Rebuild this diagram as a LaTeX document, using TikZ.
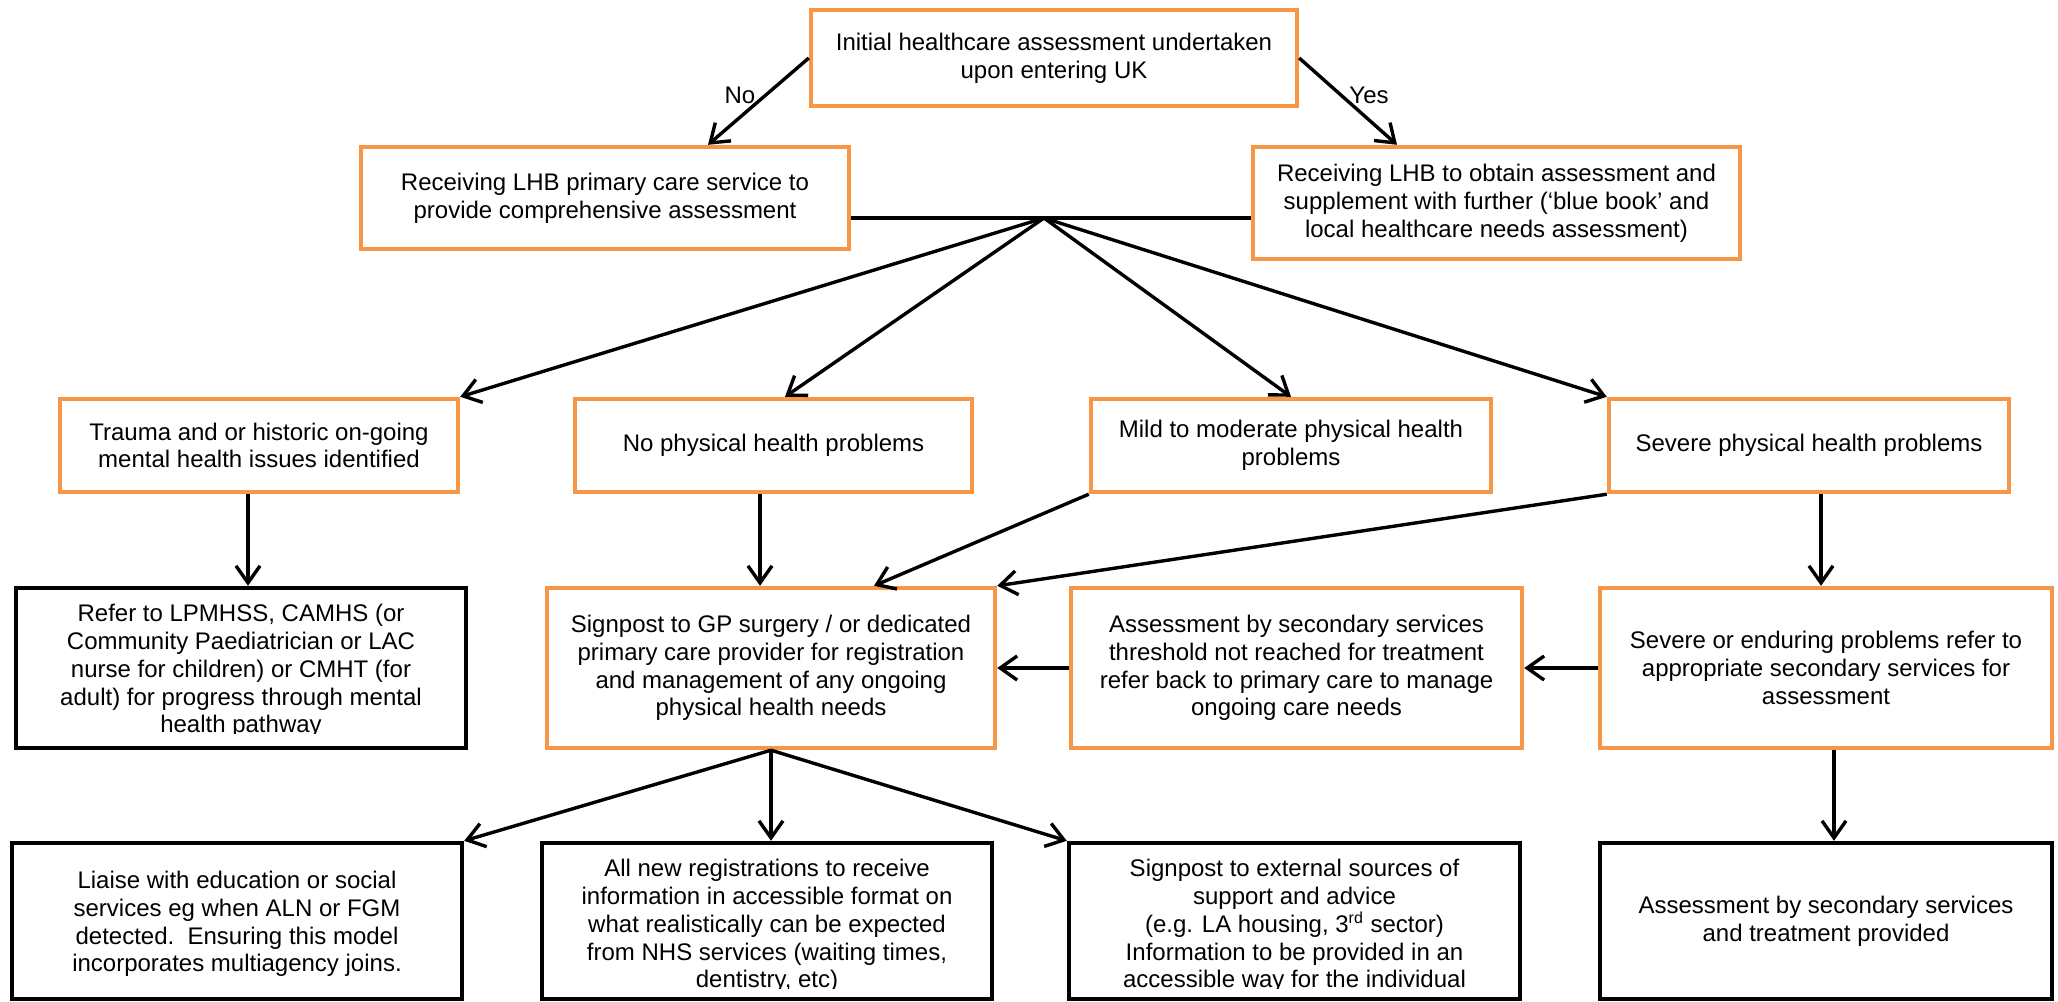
\documentclass[tikz,border=0pt]{standalone}
\usepackage{fontspec}
\setmainfont{Liberation Sans}
\usetikzlibrary{arrows.meta}
\definecolor{boxorange}{HTML}{F79646}
\begin{document}
\begin{tikzpicture}[x=0.5pt, y=-0.5pt,
  base/.style={line width=2.2pt, align=center, inner sep=2pt, fill=white,
               font=\fontsize{12}{13.9}\selectfont},
  obox/.style={base, draw=boxorange},
  kbox/.style={base, draw=black},
  arr/.style={line width=1.7pt, -{Straight Barb[length=8.5pt,width=12pt]}},
  plain/.style={line width=1.7pt},
  lbl/.style={font=\fontsize{12}{13.9}\selectfont, inner sep=0pt, align=center}
]
\useasboundingbox (0,0) rectangle (2058,1002);

% top level
\node[obox, minimum width=243pt, minimum height=48pt] (init) at (1054,58)
  {Initial healthcare assessment undertaken\\upon entering UK};
\node[obox, minimum width=244pt, minimum height=51pt] (recvA) at (605,198)
  {Receiving LHB primary care service to\\provide comprehensive assessment};
\node[obox, minimum width=243.5pt, minimum height=56pt] (recvB) at (1496.5,203)
  {Receiving LHB to obtain assessment and\\supplement with further (‘blue book’ and\\local healthcare needs assessment)};

% second row
\node[obox, minimum width=199pt, minimum height=46.5pt] (trauma) at (259,445.5)
  {Trauma and or historic on-going\\mental health issues identified};
\node[obox, minimum width=198.5pt, minimum height=46.5pt] (nophys) at (773.5,445.5)
  {No physical health problems};
\node[obox, minimum width=200pt, minimum height=46.5pt] (mild) at (1291,445.5)
  {Mild to moderate physical health\\problems};
\node[obox, minimum width=200pt, minimum height=46.5pt] (severe) at (1809,445.5)
  {Severe physical health problems};

% third row
\node[kbox, minimum width=225pt, minimum height=80pt] (refer) at (241,668) {};
\begin{scope}
  \clip (16,588) rectangle (466,733);
  \node[lbl] (refertext) at (241,671)
    {Refer to LPMHSS, CAMHS (or\\Community Paediatrician or LAC\\nurse for children) or CMHT (for\\adult) for progress through mental\\health pathway};
\end{scope}
\node[obox, minimum width=224pt, minimum height=80pt] (signpost) at (771,668)
  {Signpost to GP surgery / or dedicated\\primary care provider for registration\\and management of any ongoing\\physical health needs};
\node[obox, minimum width=225.5pt, minimum height=80pt] (assess) at (1296.5,668)
  {Assessment by secondary services\\threshold not reached for treatment\\refer back to primary care to manage\\ongoing care needs};
\node[obox, minimum width=226pt, minimum height=80pt] (sevend) at (1826,668)
  {Severe or enduring problems refer to\\appropriate secondary services for\\assessment};

% bottom row
\node[kbox, minimum width=225pt, minimum height=78pt] (liaise) at (237,921) {};
\node[lbl] (liaisetext) at (237,924)
  {Liaise with education or social\\services eg when ALN or FGM\\detected.\ \ Ensuring this model\\incorporates multiagency joins.};
\node[kbox, minimum width=225pt, minimum height=78pt] (allnew) at (767,921) {};
\begin{scope}
  \clip (542,843) rectangle (992,988);
  \node[lbl] (allnewtext) at (767,926)
    {All new registrations to receive\\information in accessible format on\\what realistically can be expected\\from NHS services (waiting times,\\dentistry, etc)};
\end{scope}
\node[kbox, minimum width=225.5pt, minimum height=78pt] (external) at (1294.5,921) {};
\begin{scope}
  \clip (1069,843) rectangle (1520,988);
  \node[lbl] (externaltext) at (1294.5,926)
    {Signpost to external sources of\\support and advice\\(e.g. LA housing, 3\textsuperscript{rd} sector)\\Information to be provided in an\\accessible way for the individual};
\end{scope}
\node[kbox, minimum width=226pt, minimum height=78pt] (asstreat) at (1826,921)
  {Assessment by secondary services\\and treatment provided};

% junctions
\coordinate (J) at (1044,218);
\coordinate (K) at (signpost.south);

% connectors from the top box
\draw[arr] (init.west) -- ([xshift=51.5pt]recvA.north);
\draw[arr] (init.east) -- ([xshift=-49.75pt]recvB.north);
\node[lbl] (no) at (740,95) {No};
\node[lbl] (yes) at (1369,95) {Yes};

% horizontal joining line and fan
\draw[plain] (recvA.east |- J) -- (recvB.west |- J);
\draw[arr] (J) -- (trauma.north east);
\draw[arr] (J) -- ([xshift=5.75pt]nophys.north);
\draw[arr] (J) -- (mild.north);
\draw[arr] (J) -- (severe.north west);

% second to third row
\draw[arr] ([xshift=-5.5pt]trauma.south) -- ([xshift=-5.5pt]trauma.south |- refer.north);
\draw[arr] ([xshift=-6.75pt]nophys.south) -- ([xshift=-6.75pt]nophys.south |- signpost.north);
\draw[arr] (mild.south west) -- ([xshift=51.5pt]signpost.north);
\draw[arr] (severe.south west) -- (signpost.north east);
\draw[arr] ([xshift=6pt]severe.south) -- ([xshift=6pt]severe.south |- sevend.north);

% horizontal arrows in third row
\draw[arr] (sevend.west) -- (assess.east);
\draw[arr] (assess.west) -- (signpost.east);

% third to bottom row
\draw[arr] (K) -- (liaise.north east);
\draw[arr] (K) -- (K |- allnew.north);
\draw[arr] (K) -- (external.north west);
\draw[arr] ([xshift=4pt]sevend.south) -- ([xshift=4pt]sevend.south |- asstreat.north);
\end{tikzpicture}
\end{document}
